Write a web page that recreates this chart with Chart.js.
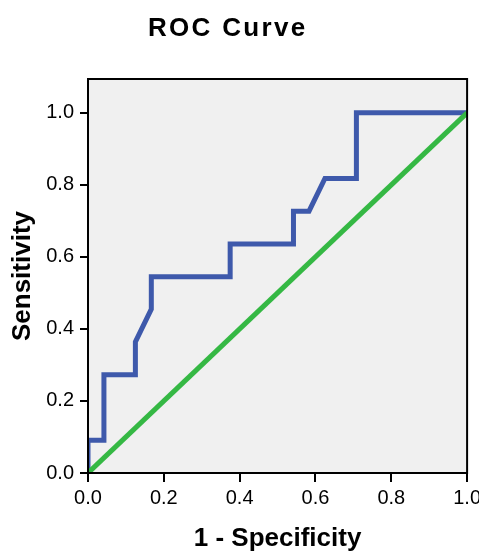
<!DOCTYPE html>
<html>
<head>
<meta charset="utf-8">
<script src="https://cdn.jsdelivr.net/npm/chart.js@4"></script>
<style>
  html, body { margin: 0; padding: 0; overflow: hidden; background: #fff; }
  #wrap { width: 479px; height: 554px; overflow: hidden; }
</style>
</head>
<body>
<div id="wrap"><canvas id="roc" width="485" height="554"></canvas></div>
<script>
// ROC curve points (1 - specificity, sensitivity)
const fpr = [0, 0, 0.042, 0.042, 0.125, 0.125, 0.167, 0.167, 0.375, 0.375, 0.542, 0.542, 0.583, 0.625, 0.708, 0.708, 1.0];
const tpr = [0, 0.091, 0.091, 0.273, 0.273, 0.364, 0.455, 0.545, 0.545, 0.636, 0.636, 0.727, 0.727, 0.818, 0.818, 1.0, 1.0];
// reference line
const refX = [0, 1];
const refY = [0, 1];
const tickValues = [0, 0.2, 0.4, 0.6, 0.8, 1.0];
const titleText = 'ROC Curve';
const xTitle = '1 - Specificity';
const yTitle = 'Sensitivity';

const toPoints = (xs, ys) => xs.map((x, i) => ({ x: x, y: ys[i] }));

// grey plot background + frame, and the title (SPSS style, a bit left of centre)
const frame = {
    id: 'frame',
    beforeDraw(chart) {
        const { ctx, chartArea: a } = chart;
        ctx.save();
        ctx.fillStyle = '#f0f0f0';
        ctx.fillRect(a.left, a.top, a.right - a.left, a.bottom - a.top);
        ctx.restore();
    },
    afterDraw(chart) {
        const { ctx, chartArea: a } = chart;
        ctx.save();
        ctx.strokeStyle = '#000';
        ctx.lineWidth = 2;
        ctx.strokeRect(a.left, a.top, a.right - a.left, a.bottom - a.top);
        ctx.letterSpacing = '2.3px';
        ctx.fillStyle = '#000';
        ctx.font = 'bold 26px "Liberation Sans", Arial, sans-serif';
        ctx.textAlign = 'left';
        ctx.textBaseline = 'alphabetic';
        ctx.fillText(titleText, 148, 36);
        ctx.restore();
    }
};

const tickFont = { family: '"Liberation Sans", Arial, sans-serif', size: 20 };
const axisFont = { family: '"Liberation Sans", Arial, sans-serif', size: 26, weight: 'bold' };

new Chart(document.getElementById('roc'), {
    type: 'scatter',
    data: {
        datasets: [{
            label: 'Reference Line',
            data: toPoints(refX, refY),
            showLine: true,
            borderColor: '#35b844',
            borderWidth: 5,
            pointRadius: 0
        }, {
            label: 'ROC',
            data: toPoints(fpr, tpr),
            showLine: true,
            borderColor: '#3e59ab',
            borderWidth: 5,
            pointRadius: 0,
            tension: 0
        }]
    },
    options: {
        responsive: false,
        animation: false,
        layout: { padding: { top: 79, right: 17, bottom: 0, left: 0 } },
        plugins: {
            legend: { display: false },
            tooltip: { enabled: false }
        },
        scales: {
            x: {
                type: 'linear',
                min: 0,
                max: 1,
                afterBuildTicks: s => { s.ticks = tickValues.map(v => ({ value: v })); },
                afterFit: s => { s.height = 81; },
                ticks: {
                    color: '#000',
                    font: tickFont,
                    padding: 4,
                    maxRotation: 0,
                    callback: v => v.toFixed(1)
                },
                grid: { drawOnChartArea: false, color: '#000', lineWidth: 2, tickLength: 9 },
                border: { color: '#000', width: 2 },
                title: { display: true, text: xTitle, color: '#000', font: axisFont, padding: { top: -1, bottom: 0 } }
            },
            y: {
                type: 'linear',
                min: 0,
                max: 1.094,
                afterBuildTicks: s => { s.ticks = tickValues.map(v => ({ value: v })); },
                afterFit: s => { s.width = 88; },
                ticks: {
                    color: '#000',
                    font: tickFont,
                    padding: 6,
                    callback: v => v.toFixed(1)
                },
                grid: { drawOnChartArea: false, color: '#000', lineWidth: 2, tickLength: 8 },
                border: { color: '#000', width: 2 },
                title: { display: true, text: yTitle, color: '#000', font: axisFont, padding: { top: 7, bottom: 0 } }
            }
        }
    },
    plugins: [frame]
});
</script>
</body>
</html>
